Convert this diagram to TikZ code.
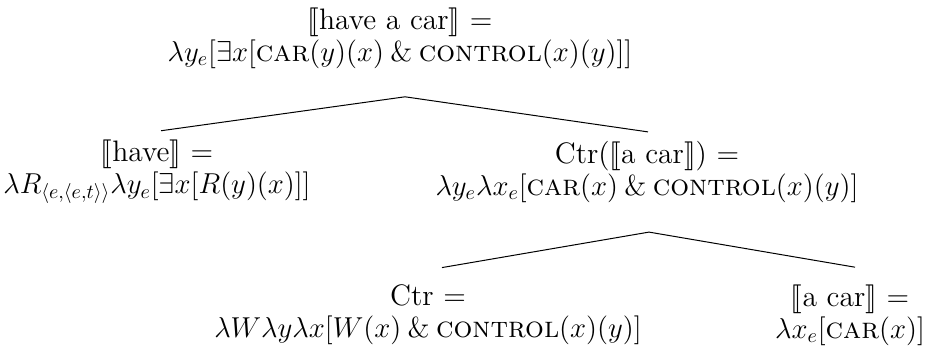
\documentclass[tikz,border=0pt]{standalone}
\usepackage{amsmath}
\usepackage{stmaryrd}
\usetikzlibrary{positioning}
\tikzset{
  sem/.style={align=center,inner sep=0pt,font=\fontsize{14.8}{16}\selectfont},
  edge/.style={draw=black,line width=0.5pt}
}
\newcommand{\den}[1]{$\llbracket$#1$\rrbracket$}
\newcommand{\pred}[1]{\text{\textsc{#1}}}

\begin{document}
\begin{tikzpicture}[x=0.5pt,y=-0.5pt]
  \useasboundingbox (0,0) rectangle (925,347);
  \node[sem] (root) at (400,38)
    {\den{have a car} =\\
     $\lambda y_e[\exists x[\pred{car}(y)(x) \mathbin{\&} \pred{control}(x)(y)]]$};
  \node[sem] (have) at (157,172)
    {\den{have} =\\
     $\lambda R_{\langle e,\langle e,t\rangle\rangle}\lambda y_e[\exists x[R(y)(x)]]$};
  \node[sem] (ctracar) at (647,172)
    {Ctr(\den{a car}) =\\
     $\lambda y_e\lambda x_e[\pred{car}(x) \mathbin{\&} \pred{control}(x)(y)]$};
  \node[sem] (ctr) at (428,315)
    {Ctr =\\
     $\lambda W\lambda y\lambda x[W(x) \mathbin{\&} \pred{control}(x)(y)]$};
  \node[sem] (acar) at (850,315)
    {\den{a car} =\\
     $\lambda x_e[\pred{car}(x)]$};
  % branching points below the mother nodes
  \coordinate (rootfoot) at ([shift={(2.5pt,-14pt)}]root.south);
  \coordinate (ctrfoot) at ([shift={(1pt,-14.5pt)}]ctracar.south);
  \draw[edge] (rootfoot) -- ([shift={(2pt,4.5pt)}]have.north);
  \draw[edge] (rootfoot) -- ([shift={(0.5pt,4.5pt)}]ctracar.north);
  \draw[edge] (ctrfoot) -- ([shift={(7pt,8.5pt)}]ctr.north);
  \draw[edge] (ctrfoot) -- ([shift={(2.5pt,8.5pt)}]acar.north);
\end{tikzpicture}
\end{document}
